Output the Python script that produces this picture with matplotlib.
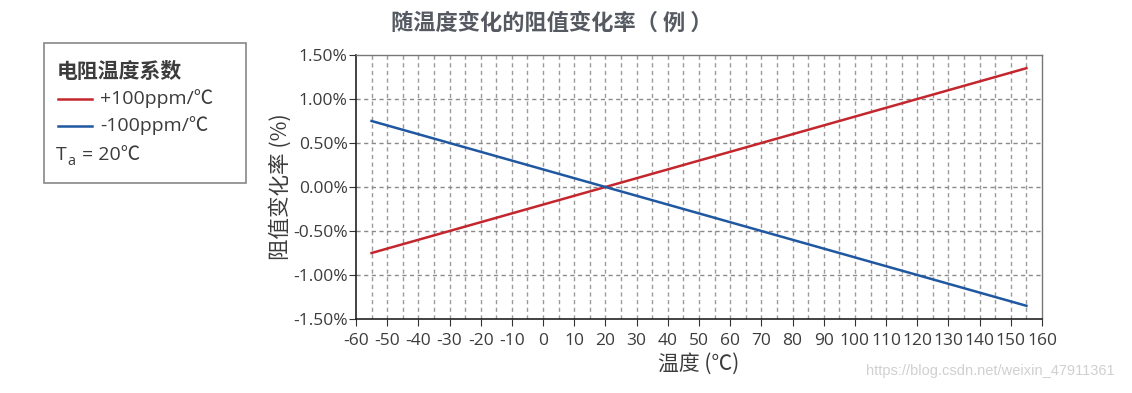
import numpy as np
import matplotlib.pyplot as plt
from matplotlib.ticker import MultipleLocator, FuncFormatter

plt.rcParams['font.family'] = ['Open Sans', 'Noto Sans CJK SC', 'DejaVu Sans']
plt.rcParams['axes.unicode_minus'] = False

# temperature end points and resistance change (%)
temps = [-55, 155]
pos_100ppm = [-0.75, 1.35]
neg_100ppm = [0.75, -1.35]

x_ticks = list(range(-60, 161, 10))
y_ticks = [-1.5, -1.0, -0.5, 0.0, 0.5, 1.0, 1.5]

txt = '#3c3c3c'
cjk = ['Noto Sans CJK SC', 'DejaVu Sans']
lat = ['Open Sans', 'Noto Sans CJK SC', 'DejaVu Sans']

fig = plt.figure(figsize=(11.32, 3.93), dpi=100)
ax = fig.add_axes([356 / 1132, 1 - 319 / 393, (1042 - 356) / 1132, (319 - 55) / 393])

ax.plot(temps, pos_100ppm, color='#c4262e', lw=1.8, zorder=3)
ax.plot(temps, neg_100ppm, color='#1f57a0', lw=1.8, zorder=3)

ax.set_xlim(-60, 160)
ax.set_ylim(-1.5, 1.5)
ax.set_xticks(x_ticks)
ax.set_yticks(y_ticks)
ax.xaxis.set_minor_locator(MultipleLocator(5))
ax.yaxis.set_major_formatter(FuncFormatter(lambda v, p: '%.2f%%' % v))

# dashed grid: vertical every 5 degC, horizontal every 0.5%
for xv in np.arange(-55, 160, 5):
    ax.axvline(xv, color='#9a9a9a', lw=1.0, ls=(0, (3, 2.5)), zorder=1)
for yv in y_ticks[1:-1]:
    ax.axhline(yv, color='#8a8a8a', lw=1.0, ls=(0, (3, 2.5)), zorder=1)

ax.tick_params(axis='both', which='major', labelsize=12.5, labelcolor=txt,
               length=5, width=0.8, color='#333333')
ax.tick_params(axis='x', which='minor', length=0)
ax.tick_params(axis='x', pad=5)
ax.tick_params(axis='y', pad=1)
for lab in ax.get_xticklabels() + ax.get_yticklabels():
    lab.set_fontfamily(['Open Sans', 'DejaVu Sans'])

for side in ['left', 'bottom']:
    ax.spines[side].set_color('#222222')
    ax.spines[side].set_linewidth(1.2)
for side in ['top', 'right']:
    ax.spines[side].set_color('#777777')
    ax.spines[side].set_linewidth(1.0)

ax.set_xlabel('温度 (℃)', fontsize=15, color=txt, labelpad=3, family=cjk)
ax.set_ylabel('阻值变化率 (%)', fontsize=15.5, color=txt, labelpad=1, family=cjk)

fig.text(552 / 1132, 0.942, '随温度变化的阻值变化率（ 例 ）', ha='center', va='center',
         fontsize=16, fontweight='bold', color='#555a62', family=cjk)

# legend box
box = plt.Rectangle((44 / 1132, 1 - 183 / 393), (246 - 44) / 1132, (183 - 43) / 393,
                    transform=fig.transFigure, fill=False, ec='#888888', lw=1.2)
fig.patches.append(box)
fig.text(57 / 1132, 1 - 71 / 393, '电阻温度系数', fontsize=15, fontweight='bold',
         color=txt, va='center', family=cjk)
fig.lines.append(plt.Line2D([58 / 1132, 92 / 1132], [1 - 99 / 393] * 2,
                            transform=fig.transFigure, color='#c4262e', lw=1.8))
fig.lines.append(plt.Line2D([58 / 1132, 92 / 1132], [1 - 126 / 393] * 2,
                            transform=fig.transFigure, color='#1f57a0', lw=1.8))
fig.text(100 / 1132, 1 - 99 / 393, '+100ppm/℃', fontsize=14, color=txt, va='center', family=lat)
fig.text(100 / 1132, 1 - 126 / 393, '-100ppm/℃', fontsize=14, color=txt, va='center', family=lat)
fig.text(56 / 1132, 1 - 155 / 393, 'T', fontsize=14, color=txt, va='center', family=lat)
fig.text(67 / 1132, 1 - 161 / 393, 'a', fontsize=10.5, color=txt, va='center', family=lat)
fig.text(82 / 1132, 1 - 155 / 393, '= 20℃', fontsize=14, color=txt, va='center', family=lat)

fig.text(0.985, 0.045, 'https://blog.csdn.net/weixin_47911361', ha='right',
         fontsize=10.5, color='#d0d0d0', family=['Liberation Sans', 'DejaVu Sans'])

fig.savefig('out.png', dpi=100)
